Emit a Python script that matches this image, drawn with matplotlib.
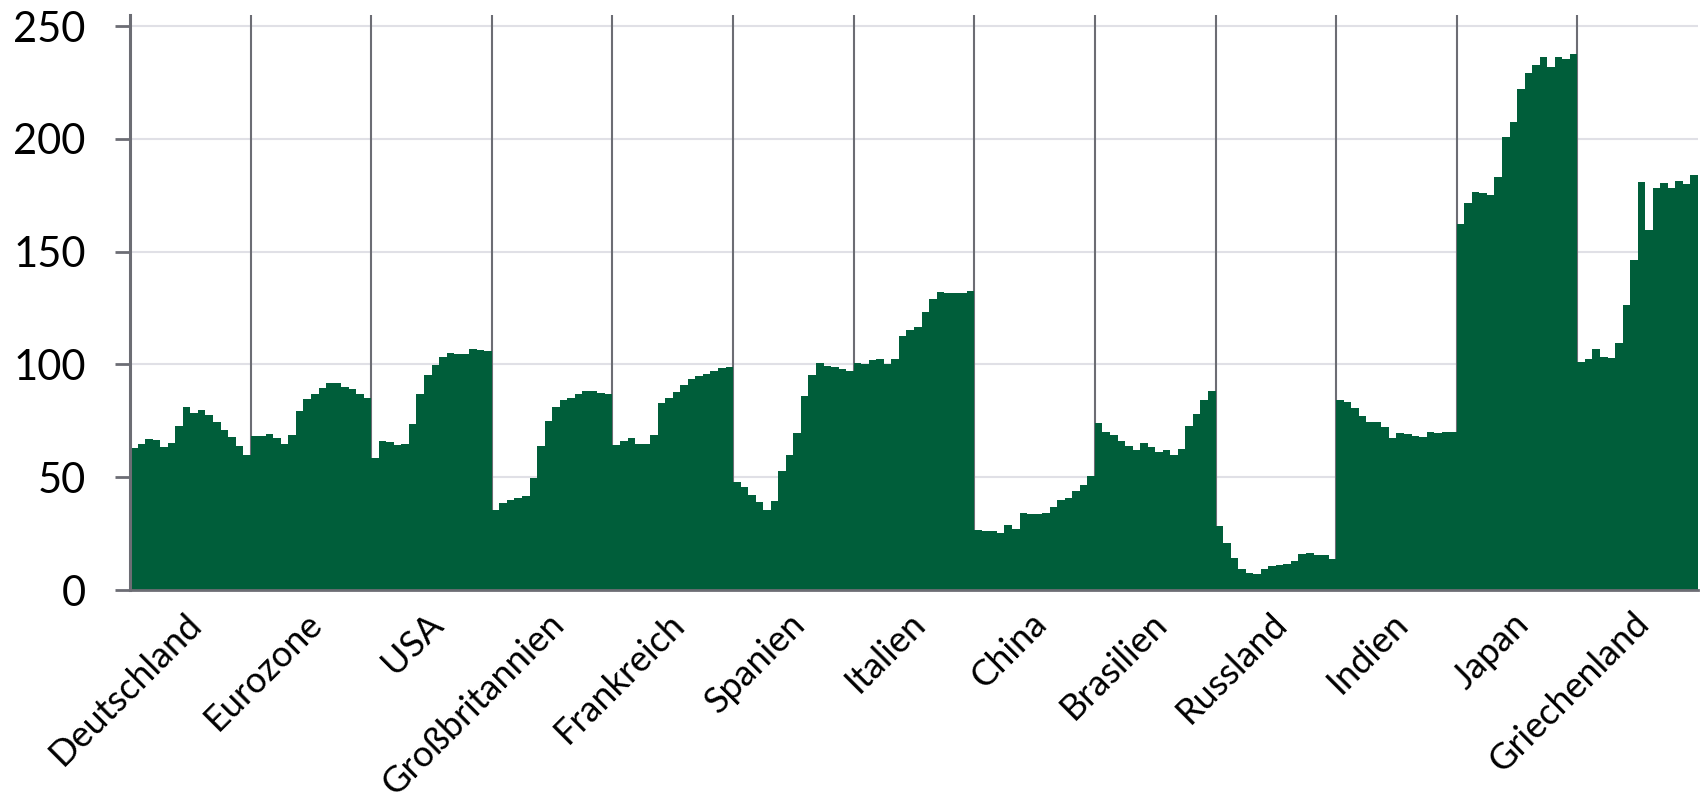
import numpy as np
import matplotlib
matplotlib.use("Agg")
import matplotlib.pyplot as plt

plt.rcParams['font.family'] = ['Lato', 'DejaVu Sans']

# Länder (je 16 Jahreswerte, Schuldenquote in % des BIP)
laender = ["Deutschland", "Eurozone", "USA", "Großbritannien", "Frankreich", "Spanien",
           "Italien", "China", "Brasilien", "Russland", "Indien", "Japan", "Griechenland"]

deutschland = [63.0, 64.8, 67.0, 66.5, 63.6, 65.2, 72.8, 81.0, 78.7, 79.9, 77.6, 74.5, 70.8, 67.9, 63.9, 60.0]
eurozone = [68.3, 68.5, 69.1, 67.4, 64.9, 68.8, 79.3, 84.7, 86.8, 89.5, 91.7, 91.7, 90.2, 89.2, 87.0, 85.2]
usa = [58.6, 66.1, 65.5, 64.3, 64.8, 73.6, 86.8, 95.5, 99.8, 103.4, 105.0, 104.7, 104.7, 106.9, 106.3, 106.0]
grossbritannien = [35.6, 38.6, 39.8, 40.8, 41.7, 49.7, 63.9, 75.1, 81.0, 84.3, 85.2, 87.0, 88.1, 88.1, 87.4, 87.1]
frankreich = [64.3, 66.0, 67.4, 64.6, 64.6, 68.8, 83.0, 85.2, 88.0, 90.7, 93.6, 94.9, 95.7, 96.9, 98.6, 98.8]
spanien = [47.8, 45.5, 42.3, 38.9, 35.5, 39.4, 52.8, 60.0, 69.7, 85.9, 95.5, 100.6, 99.4, 98.9, 98.2, 97.3]
italien = [100.6, 100.1, 102.0, 102.6, 100.0, 102.5, 112.7, 115.5, 116.7, 123.5, 129.1, 132.1, 131.8, 131.5, 131.5, 132.5]
china = [26.6, 26.2, 26.2, 25.4, 28.8, 27.1, 34.3, 33.9, 33.9, 34.3, 37.0, 39.9, 40.8, 44.1, 46.7, 50.7]
brasilien = [73.9, 70.1, 68.8, 66.1, 63.7, 62.0, 65.1, 63.3, 61.2, 62.1, 60.0, 62.4, 72.8, 78.2, 84.1, 88.1]
russland = [28.2, 20.7, 14.4, 9.5, 7.7, 7.1, 9.5, 10.5, 11.0, 11.7, 12.9, 15.8, 16.2, 15.6, 15.3, 13.8]
indien = [84.4, 83.5, 80.9, 77.2, 74.5, 74.7, 72.4, 67.5, 69.7, 69.3, 68.5, 67.8, 70.2, 69.4, 70.0, 70.2]
japan = [162.5, 171.4, 176.3, 175.9, 175.1, 183.3, 201.0, 207.7, 222.2, 229.2, 232.7, 236.2, 232.0, 236.3, 235.3, 237.6]
griechenland = [101.3, 102.5, 107.0, 103.3, 102.8, 109.4, 126.6, 146.4, 181.0, 159.8, 178.3, 180.7, 178.1, 181.3, 179.9, 183.9]

reihen = [deutschland, eurozone, usa, grossbritannien, frankreich, spanien, italien,
          china, brasilien, russland, indien, japan, griechenland]

n_jahre = len(deutschland)
werte = np.concatenate(reihen)
x = np.arange(len(werte))

gruen = "#005e3a"
achse = "#6c6d74"

fig = plt.figure(figsize=(17, 8), dpi=100)
ax = fig.add_axes([0.0765, 0.2625, 0.9223, 0.7188])

# Gitternetz und Trennlinien hinter den Balken
for y in [50, 100, 150, 200, 250]:
    ax.axhline(y, color="#e0e0e6", lw=1.5, zorder=0.5)
grenzen = [k * n_jahre - 0.5 for k in range(1, len(laender))]
ax.vlines(grenzen, 0, 255, color=achse, lw=1.5, zorder=1)

ax.bar(x, werte, width=1.0, color=gruen, linewidth=0, zorder=2)

ax.set_xlim(-0.5, len(werte) - 0.5)
ax.set_ylim(0, 255)
ax.set_yticks([0, 50, 100, 150, 200, 250])
ax.tick_params(axis='y', labelsize=30, length=11, width=2, color=achse, pad=21)
ax.set_xticks([])

for s in ["top", "right"]:
    ax.spines[s].set_visible(False)
ax.spines["left"].set_color(achse)
ax.spines["left"].set_linewidth(2.2)
ax.spines["bottom"].set_color(achse)
ax.spines["bottom"].set_linewidth(2.0)
ax.spines["left"].set_zorder(3)
ax.spines["bottom"].set_zorder(3)

# Ländernamen schräg unter jeder Gruppe
for i, name in enumerate(laender):
    mitte = i * n_jahre + (n_jahre - 1) / 2
    ax.annotate(name, xy=(mitte, 0), xycoords=('data', 'axes fraction'),
                xytext=(-4, -12), textcoords='offset points',
                rotation=45, rotation_mode='anchor', ha='right', va='top',
                fontsize=26, annotation_clip=False)

fig.savefig("out.png", dpi=100)
